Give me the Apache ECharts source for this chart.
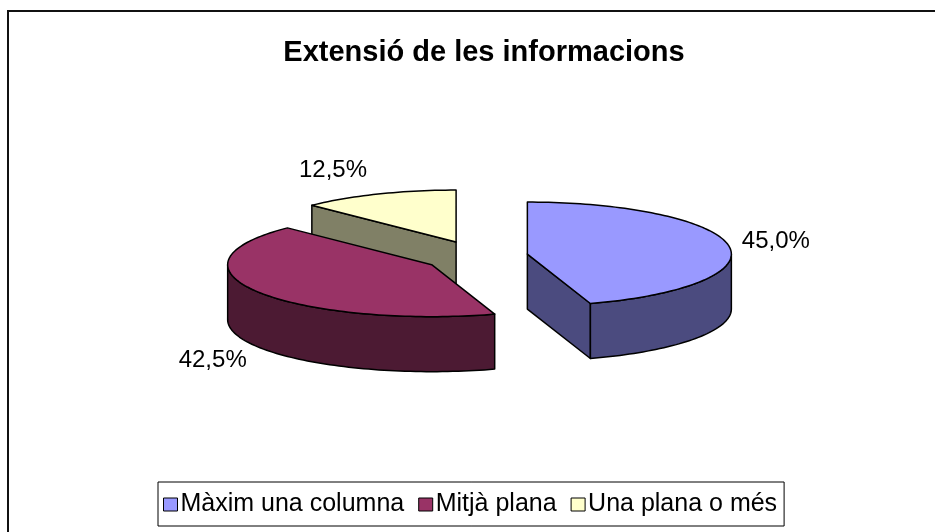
<!DOCTYPE html>
<html><head><meta charset="utf-8">
<script src="https://cdn.jsdelivr.net/npm/echarts@6/dist/echarts.min.js"></script>
<style>html,body{margin:0;padding:0;background:#fff}#c{width:935px;height:532px}</style>
</head><body><div id="c"></div>
<script>
const categories = ['Màxim una columna', 'Mitjà plana', 'Una plana o més'];
const values = [45.0, 42.5, 12.5];
const topColors = ['#9999FF', '#993366', '#FFFFCC'];
const sideColors = ['#4B4B7F', '#4C1A33', '#808066'];

const GEO = {cx: 476, cy: 256.5, rx: 204, ry: 52, depth: 55, explode: 52, explodeY: 0.3};
const FONT = '"Liberation Sans", Arial, sans-serif';
const total = values.reduce((a, b) => a + b, 0);

function fmt(v) { return v.toFixed(1).replace('.', ',') + '%'; }

function sliceInfo(i) {
  let s = 0;
  for (let k = 0; k < i; k++) s += values[k];
  const a0 = s / total * 360, a1 = (s + values[i]) / total * 360;
  const mid = (a0 + a1) / 2 * Math.PI / 180;
  return {a0, a1, mid,
    ox: GEO.cx + GEO.explode * Math.sin(mid),
    oy: GEO.cy - GEO.explode * GEO.explodeY * Math.cos(mid)};
}

function renderSlice(i) {
  return function (params, api) {
    const v = api.value(0);
    const {a0, a1, mid, ox, oy} = sliceInfo(i);
    const d = GEO.depth;
    const P = (deg, dz) => { const r = deg * Math.PI / 180; return [ox + GEO.rx * Math.sin(r), oy - GEO.ry * Math.cos(r) + (dz || 0)]; };
    const arc = (from, to, dz) => {
      const pts = []; const n = Math.max(2, Math.ceil(Math.abs(to - from) / 1.5));
      for (let k = 0; k <= n; k++) pts.push(P(from + (to - from) * k / n, dz));
      return pts;
    };
    const st = (fill) => ({fill: fill, stroke: '#000', lineWidth: 1.5, lineJoin: 'round'});
    const children = [];
    const cutVisible = phi => Math.cos(phi * Math.PI / 180) < -1e-6;
    [[a0, a0 - 90], [a1, a1 + 90]].forEach(([a, phi]) => {
      if (cutVisible(phi)) {
        const r = P(a, 0);
        children.push({type: 'polygon', shape: {points: [[ox, oy], r, [r[0], r[1] + d], [ox, oy + d]]}, style: st(sideColors[i])});
      }
    });
    const w0 = Math.max(a0, 90), w1 = Math.min(a1, 270);
    if (w1 > w0) {
      children.push({type: 'polygon', shape: {points: arc(w0, w1, 0).concat(arc(w1, w0, d))}, style: st(sideColors[i])});
    }
    children.push({type: 'polygon', shape: {points: [[ox, oy]].concat(arc(a0, a1, 0))}, style: st(topColors[i])});
    const sx = Math.sin(mid), cx = Math.cos(mid);
    const ax = ox + GEO.rx * sx, ay = oy - GEO.ry * cx + (cx < 0 ? d : 0);
    children.push({type: 'text', x: ax + (sx >= 0 ? 13 : -11), y: ay - cx * 26,
      style: {text: fmt(v), fill: '#000', font: '24px ' + FONT,
        align: sx >= 0 ? 'left' : 'right', verticalAlign: 'middle'}});
    return {type: 'group', children: children};
  };
}

const orderY = values.map((_, i) => sliceInfo(i).oy);
const series = categories.map((name, i) => ({
  type: 'custom', name: name, coordinateSystem: 'none', silent: true,
  z: 2 + orderY.filter(y => y < orderY[i]).length,
  itemStyle: {color: topColors[i], borderColor: '#000', borderWidth: 1},
  data: [[values[i]]],
  renderItem: renderSlice(i)
}));

const chart = echarts.init(document.getElementById('c'), null, {renderer: 'canvas'});
chart.setOption({
  animation: false,
  backgroundColor: '#fff',
  title: {text: 'Extensió de les informacions', left: 479, top: 33, textAlign: 'center',
    textStyle: {fontFamily: FONT, fontWeight: 'bold', fontSize: 29, color: '#000'}},
  graphic: [{type: 'rect', shape: {x: 8, y: 11, width: 1200, height: 800}, style: {fill: 'none', stroke: '#111', lineWidth: 2}, silent: true, z: 0}],
  legend: {data: categories, left: 158, top: 482, orient: 'horizontal', icon: 'rect',
    itemWidth: 14, itemHeight: 13, itemGap: 14, padding: [10, 7, 9, 5],
    borderColor: '#000', borderWidth: 1, selectedMode: false,
    itemStyle: {borderColor: '#000', borderWidth: 1},
    textStyle: {fontFamily: FONT, fontSize: 25, color: '#000', padding: [0, 0, 0, -2]}},
  series: series
});
</script></body></html>
